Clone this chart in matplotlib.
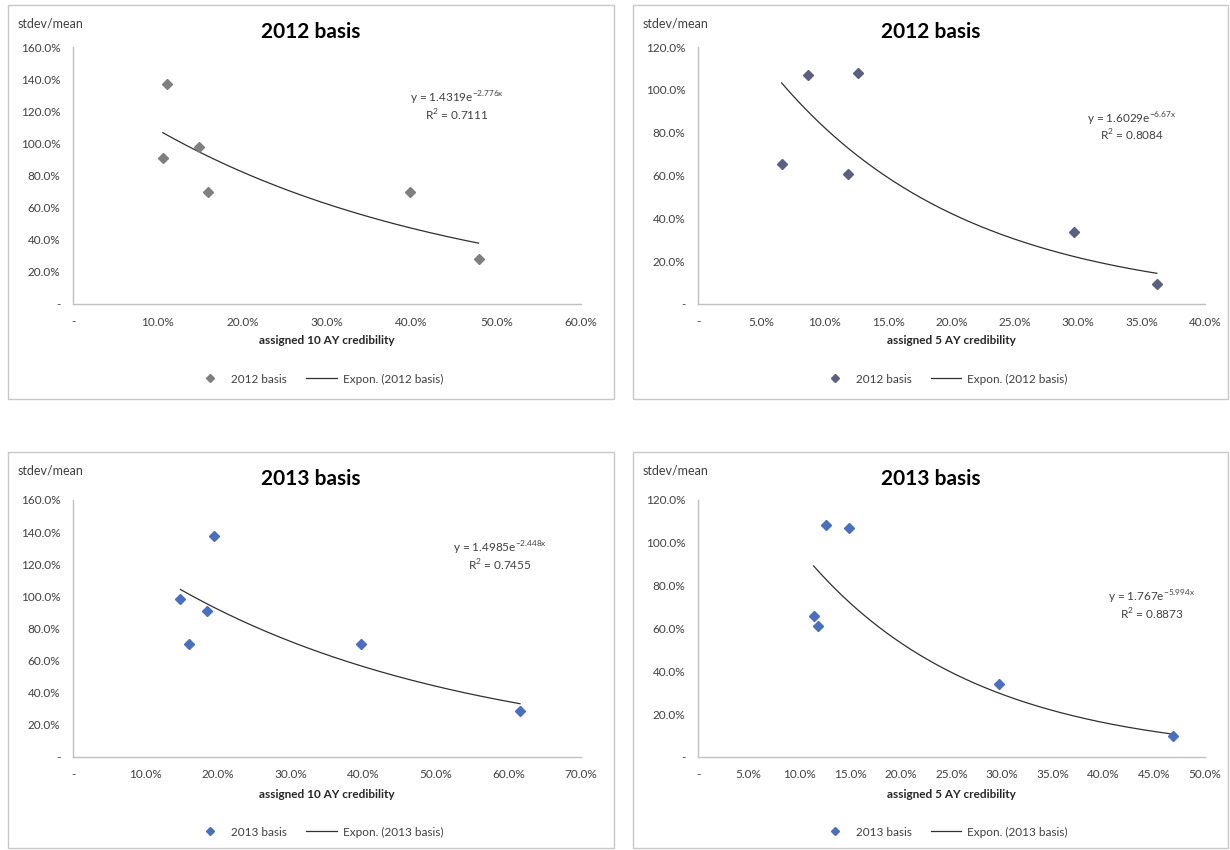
import numpy as np
import matplotlib
matplotlib.use("Agg")
import matplotlib.pyplot as plt
from matplotlib.patches import Rectangle
from matplotlib.ticker import FuncFormatter, MultipleLocator

plt.rcParams['font.family'] = ['Lato', 'DejaVu Sans']

# 2012 basis, 10 AY credibility (values in %)
x_2012_10 = [11.1, 10.6, 14.9, 16.0, 39.8, 47.9]
y_2012_10 = [137.2, 90.6, 98.0, 69.8, 70.0, 28.2]
# 2012 basis, 5 AY credibility
x_2012_5 = [8.7, 12.6, 6.6, 11.8, 29.7, 36.2]
y_2012_5 = [106.8, 107.8, 65.6, 60.9, 33.6, 9.5]
# 2013 basis, 10 AY credibility
x_2013_10 = [19.4, 14.8, 18.4, 16.0, 39.7, 61.6]
y_2013_10 = [137.6, 98.3, 90.6, 70.3, 70.3, 28.4]
# 2013 basis, 5 AY credibility
x_2013_5 = [12.6, 14.9, 11.4, 11.8, 29.7, 46.8]
y_2013_5 = [108.3, 106.9, 65.8, 61.0, 33.9, 9.6]

# exponential trendline coefficients as printed on the chart: y = a*exp(b*x)
fit_a = [1.4319, 1.6029, 1.4985, 1.767]
fit_b = [-2.776, -6.67, -2.448, -5.994]
fit_a_txt = ['1.4319', '1.6029', '1.4985', '1.767']
fit_b_txt = ['-2.776x', '-6.67x', '-2.448x', '-5.994x']
r2_txt = ['0.7111', '0.8084', '0.7455', '0.8873']

titles = ['2012 basis', '2012 basis', '2013 basis', '2013 basis']
xlabels = ['assigned 10 AY credibility', 'assigned 5 AY credibility',
           'assigned 10 AY credibility', 'assigned 5 AY credibility']
xlims = [60, 40, 70, 50]
xsteps = [10, 5, 10, 5]
ylims = [160, 120, 160, 120]
colors = ['#7f7f7f', '#5c6080', '#4a6fbf', '#4a6fbf']

W, H = 1230, 850
fig = plt.figure(figsize=(12.3, 8.5), dpi=100)
fig.patch.set_facecolor('white')

# pixel layout: frame (x0, y0, x1, y1), axes (left, top, right, bottom), equation pos (axes fraction)
frames = [(8, 5, 614, 399), (633, 5, 1228, 399), (8, 452, 614, 848), (633, 452, 1228, 848)]
axboxes = [(73, 47, 581, 304), (698, 47, 1205, 304), (73, 500, 581, 757), (698, 500, 1205, 757)]
eqpos = [(0.755, 0.80), (0.855, 0.72), (0.84, 0.81), (0.895, 0.62)]

datasets = [(x_2012_10, y_2012_10), (x_2012_5, y_2012_5),
            (x_2013_10, y_2013_10), (x_2013_5, y_2013_5)]


def pct_fmt(v, pos):
    if abs(v) < 1e-9:
        return '-'
    return f'{v:.1f}%'


for i, (xs, ys) in enumerate(datasets):
    fx0, fy0, fx1, fy1 = frames[i]
    fig.add_artist(Rectangle((fx0 / W, 1 - fy1 / H), (fx1 - fx0) / W, (fy1 - fy0) / H,
                             transform=fig.transFigure, fill=False,
                             edgecolor='#c8c8c8', linewidth=1.0))
    l, t, r, b = axboxes[i]
    ax = fig.add_axes([l / W, 1 - b / H, (r - l) / W, (b - t) / H])

    xs = np.array(xs)
    ys = np.array(ys)
    ax.plot(xs, ys, linestyle='none', marker='D', markersize=5.5,
            color=colors[i], label=titles[i], zorder=3)
    xf = np.linspace(xs.min(), xs.max(), 200)
    yf = fit_a[i] * np.exp(fit_b[i] * xf / 100) * 100
    ax.plot(xf, yf, color='#303030', linewidth=0.9,
            label=f'Expon. ({titles[i]})', zorder=2)

    ax.set_xlim(0, xlims[i])
    ax.set_ylim(0, ylims[i])
    ax.xaxis.set_major_locator(MultipleLocator(xsteps[i]))
    ax.yaxis.set_major_locator(MultipleLocator(20))
    ax.xaxis.set_major_formatter(FuncFormatter(pct_fmt))
    ax.yaxis.set_major_formatter(FuncFormatter(pct_fmt))
    ax.tick_params(length=0, labelsize=8.5, colors='#404040')
    ax.tick_params(axis='x', pad=9)
    ax.tick_params(axis='y', pad=9)
    for s in ['top', 'right']:
        ax.spines[s].set_visible(False)
    for s in ['left', 'bottom']:
        ax.spines[s].set_color('#c0c0c0')
        ax.spines[s].set_linewidth(1.0)

    ex, ey = eqpos[i]
    ax.text(ex, ey, f'y = {fit_a_txt[i]}e$^{{\\mathregular{{{fit_b_txt[i]}}}}}$',
            transform=ax.transAxes, ha='center', va='center', fontsize=8.5, color='#404040')
    ax.text(ex, ey - 0.065, f'R$^{{\\mathregular{{2}}}}$ = {r2_txt[i]}',
            transform=ax.transAxes, ha='center', va='center', fontsize=8.5, color='#404040')

    # title, y label, x label, legend
    fig.text((fx0 + fx1) / 2 / W, 1 - (fy0 + 27) / H, titles[i], ha='center', va='center',
             fontsize=15, fontweight='bold', color='black')
    fig.text((fx0 + 10) / W, 1 - (fy0 + 19) / H, 'stdev/mean', ha='left', va='center',
             fontsize=9, color='#404040')
    fig.text((l + r) / 2 / W, 1 - (b + 37) / H, xlabels[i], ha='center', va='center',
             fontsize=8.5, fontweight='bold', color='#262626')
    ax.legend(loc='center', bbox_to_anchor=(((l + r) / 2 - 8) / W, 1 - (b + 75) / H),
              bbox_transform=fig.transFigure, ncol=2, frameon=False, fontsize=8.5,
              handlelength=2.6, columnspacing=1.6, handletextpad=0.5, markerscale=0.75,
              labelcolor='#404040')

fig.savefig('out.png', dpi=100, facecolor='white')
